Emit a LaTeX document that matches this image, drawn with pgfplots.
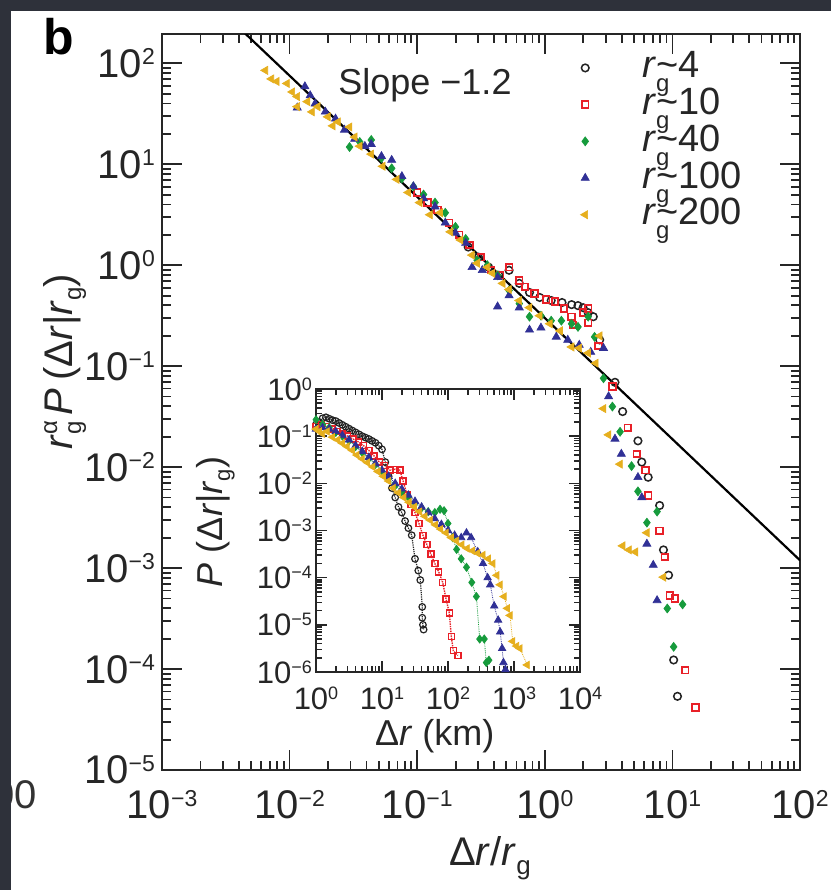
\documentclass[border=0pt]{standalone}
\usepackage{pgfplots}
\pgfplotsset{compat=1.18}
\usepackage{fontspec}
\setmainfont{Liberation Sans}
\definecolor{cblk}{RGB}{35,35,35}
\definecolor{cred}{RGB}{232,32,40}
\definecolor{cgrn}{RGB}{22,155,60}
\definecolor{cblu}{RGB}{48,48,150}
\definecolor{cyel}{RGB}{230,175,30}
\definecolor{bgdark}{RGB}{46,49,58}
\newcommand{\Tp}[1]{10\raisebox{12.5pt}{\fontsize{23}{23}\selectfont #1}}
\newcommand{\tp}[1]{10\raisebox{10pt}{\fontsize{18}{18}\selectfont #1}}
\newcommand{\rg}{\textit{r}\rlap{\raisebox{-14pt}{\fontsize{24}{24}\selectfont g}}}
\pgfplotsset{
  s4/.style={only marks, mark=o, mark size=3.8pt, line width=1.5pt, color=cblk},
  s10/.style={only marks, mark=square, mark size=3.3pt, line width=1.7pt, color=cred},
  s40/.style={only marks, mark=diamond*, mark size=4.5pt, line width=0.6pt, color=cgrn},
  s100/.style={only marks, mark=triangle*, mark size=4.7pt, line width=0.6pt, color=cblu},
  s200/.style={only marks, mark=triangle*, mark size=4.7pt, line width=0.6pt, color=cyel, mark options={rotate=90}},
}
\begin{document}
\begin{tikzpicture}
\useasboundingbox (0,0) rectangle (831pt,-890pt);
\fill[bgdark] (0,0) rectangle (831pt,-890pt);
\fill[white] (11pt,-11pt) rectangle (831pt,-890pt);
\begin{scope}
\clip (11pt,-11pt) rectangle (831pt,-890pt);
\node[anchor=base east, font=\fontsize{40}{40}\selectfont, text=black!80, inner sep=0pt] at (37pt,-808pt) {00};
\end{scope}
\node[anchor=base west, font=\fontsize{50}{50}\selectfont\bfseries, inner sep=0pt] at (43pt,-55pt) {b};

\begin{axis}[
  at={(162pt,-770pt)}, anchor=south west,
  width=638pt, height=736pt, scale only axis,
  xmode=log, ymode=log,
  xmin=1e-3, xmax=1e2, ymin=1e-5, ymax=195,
  axis line style={line width=2.4pt, black!85},
  tick align=inside,
  major tick length=20pt, minor tick length=9pt,
  tick style={line width=1.8pt, black!85},
  xtick={1e-3,1e-2,1e-1,1,10,100},
  xticklabels={\Tp{−3},\Tp{−2},\Tp{−1},\Tp{0},\Tp{1},\Tp{2}},
  minor xtick={2e-3,3e-3,4e-3,5e-3,6e-3,7e-3,8e-3,9e-3,0.02,0.03,0.04,0.05,0.06,0.07,0.08,0.09,0.2,0.3,0.4,0.5,0.6,0.7,0.8,0.9,2,3,4,5,6,7,8,9,20,30,40,50,60,70,80,90},
  ytick={1e-5,1e-4,1e-3,1e-2,1e-1,1,10,100},
  yticklabels={\Tp{−5},\Tp{−4},\Tp{−3},\Tp{−2},\Tp{−1},\Tp{0},\Tp{1},\Tp{2}},
  minor ytick={2e-5,3e-5,4e-5,5e-5,6e-5,7e-5,8e-5,9e-5,2e-4,3e-4,4e-4,5e-4,6e-4,7e-4,8e-4,9e-4,2e-3,3e-3,4e-3,5e-3,6e-3,7e-3,8e-3,9e-3,0.02,0.03,0.04,0.05,0.06,0.07,0.08,0.09,0.2,0.3,0.4,0.5,0.6,0.7,0.8,0.9,2,3,4,5,6,7,8,9,20,30,40,50,60,70,80,90},
  ticklabel style={font=\fontsize{40}{40}\selectfont, inner sep=0pt, text=black!85},
  xticklabel style={yshift=-20pt},
  yticklabel style={xshift=-7pt},
  xlabel={Δ\textit{r}/\textit{r}\raisebox{-9pt}{\fontsize{26}{26}\selectfont g}},
  xlabel style={at={(axis description cs:0.514,0)}, anchor=base, yshift=-95pt, font=\fontsize{40}{40}\selectfont, inner sep=0pt, text=black!85},
  ylabel={\textit{r}\rlap{\raisebox{15pt}{\fontsize{24}{24}\selectfont α}}\raisebox{-9pt}{\fontsize{24}{24}\selectfont g}\hspace{6pt}\textit{P}\hspace{8pt}(Δ\textit{r}|\textit{r}\raisebox{-9pt}{\fontsize{24}{24}\selectfont g})},
  ylabel style={at={(axis description cs:-0.141,0.555)}, anchor=base, font=\fontsize{40}{40}\selectfont, inner sep=0pt, text=black!85},
  legend style={at={(0.656,0.977)}, anchor=north west, draw=none, fill=none, inner sep=0pt, outer sep=0pt, row sep=0pt, column sep=53pt, font=\fontsize{38}{38}\selectfont, text=black!85, cells={anchor=base west}, nodes={inner sep=0pt, text height=27pt, text depth=9.7pt}},
  legend image code/.code={\draw[#1] plot coordinates {(0pt,10pt)};},
]
\addplot[black, line width=2.2pt, forget plot] coordinates {(1e-3,1194) (100,1.194e-3)};
\addlegendimage{s4}\addlegendentry{\rg\textasciitilde 4}
\addlegendimage{s10}\addlegendentry{\rg\textasciitilde 10}
\addlegendimage{s40}\addlegendentry{\rg\textasciitilde 40}
\addlegendimage{s100}\addlegendentry{\rg\textasciitilde 100}
\addlegendimage{s200}\addlegendentry{\rg\textasciitilde 200}
% r_g ~ 4
\addplot[s4, forget plot] coordinates {(0.2512,1.514) (0.302,1.202) (0.363,0.955) (0.4365,0.794) (0.5248,0.891) (0.631,0.661) (0.759,0.537) (0.912,0.479) (1.122,0.447) (1.365,0.427) (1.622,0.407) (1.82,0.398) (1.995,0.380) (2.188,0.339) (2.399,0.309) (2.692,0.182) (3.548,0.0692) (4.074,0.0355) (5.37,0.0182) (5.754,0.01122) (6.457,7.94e-3) (7.943,4.17e-3) (8.511,1.514e-3) (9.333,8.51e-4) (10.23,1.23e-4) (10.96,5.37e-5)};
% r_g ~ 10
\addplot[s10, forget plot] coordinates {(0.1,5.25) (0.1202,4.17) (0.1445,3.55) (0.1778,2.63) (0.2138,2.00) (0.257,1.585) (0.3162,1.202) (0.380,0.891) (0.4467,0.794) (0.5248,0.955) (0.631,0.708) (0.700,0.610) (0.832,0.525) (1.023,0.457) (1.202,0.437) (1.413,0.372) (1.622,0.309) (1.66,0.257) (1.995,0.339) (2.188,0.372) (2.188,0.269) (2.63,0.1585) (3.388,0.0631) (4.467,0.02455) (5.248,0.01349) (6.166,9.33e-3) (6.457,5.25e-3) (7.943,2.344e-3) (8.71,1.288e-3) (9.55,5.37e-4) (10.47,5.01e-4) (12.59,9.77e-5) (15.14,4.17e-5)};
% r_g ~ 40
\addplot[s40, forget plot] coordinates {(0.02951,14.8) (0.03548,16.6) (0.04365,17.4) (0.05248,11.5) (0.0631,9.12) (0.07586,7.24) (0.09333,6.03) (0.1122,5.01) (0.138,4.17) (0.166,3.31) (0.1995,2.40) (0.2399,1.82) (0.2951,1.122) (0.3548,1.0) (0.4266,0.794) (0.5248,0.562) (0.631,0.417) (0.759,0.309) (0.933,0.316) (1.122,0.282) (1.349,0.282) (1.622,0.263) (1.82,0.245) (2.188,0.309) (2.455,0.195) (2.884,0.0759) (3.388,0.0398) (3.89,0.0224) (4.786,0.01023) (5.37,5.75e-3) (6.31,2.818e-3) (7.586,3.63e-3) (9.12,3.98e-4) (10.23,1.66e-4) (12.02,4.37e-4)};
% r_g ~ 100
\addplot[s100, forget plot] coordinates {(0.01148,36.3) (0.01318,58.9) (0.0145,48.0) (0.01585,39.8) (0.01905,33.1) (0.02291,28.2) (0.02692,21.9) (0.03236,17.8) (0.0389,15.1) (0.04365,15.8) (0.05248,12.0) (0.0631,11.0) (0.07586,7.59) (0.09333,6.03) (0.1122,4.57) (0.138,3.80) (0.166,2.63) (0.1995,2.09) (0.2399,1.66) (0.2692,0.955) (0.3236,0.891) (0.4266,0.759) (0.4266,0.389) (0.5248,0.501) (0.631,0.380) (0.759,0.229) (0.933,0.240) (1.23,0.195) (1.514,0.182) (1.862,0.162) (2.291,0.138) (2.884,0.151) (3.162,0.0501) (3.548,0.01905) (3.981,0.0135) (5.37,7.94e-3) (5.754,5.01e-3) (6.31,1.738e-3) (7.079,1.072e-3) (7.586,4.79e-4)};
% r_g ~ 200
\addplot[s200, forget plot] coordinates {(6.457e-3,85.1) (7.2e-3,70.0) (7.943e-3,66.1) (9.55e-3,63.1) (0.0105,52.0) (0.01148,37.2) (0.01148,46.8) (0.0138,41.7) (0.015,33.0) (0.0166,37.2) (0.01995,29.5) (0.0218,24.0) (0.02399,26.3) (0.02951,23.4) (0.0324,18.6) (0.03548,15.1) (0.04365,12.6) (0.0537,9.55) (0.06918,7.08) (0.08511,5.25) (0.1047,4.17) (0.1259,3.16) (0.1514,3.31) (0.182,2.14) (0.2188,1.778) (0.2692,1.259) (0.2951,1.047) (0.3548,0.955) (0.389,0.832) (0.4677,0.661) (0.5248,0.575) (0.631,0.447) (0.759,0.380) (0.912,0.316) (1.096,0.263) (1.318,0.224) (1.622,0.155) (1.862,0.151) (2.188,0.135) (2.512,0.107) (2.692,0.1995) (2.884,0.0380) (3.162,0.0209) (3.89,0.0107) (4.074,1.66e-3) (4.571,1.514e-3) (5.129,1.445e-3) (6.31,2.239e-3) (8.511,8.13e-4)};
\end{axis}
\node[anchor=base, font=\fontsize{36}{36}\selectfont, text=black!85, inner sep=0pt] at (425pt,-95pt) {Slope −1.2};

\begin{axis}[
  at={(316pt,-672pt)}, anchor=south west,
  width=264pt, height=283pt, scale only axis,
  xmode=log, ymode=log,
  xmin=1, xmax=1e4, ymin=1e-6, ymax=1,
  axis line style={line width=2pt, black!85},
  tick align=inside,
  major tick length=11pt, minor tick length=6pt,
  tick style={line width=1.5pt, black!85},
  xtick={1,10,100,1000,10000},
  xticklabels={\tp{0},\tp{1},\tp{2},\tp{3},\tp{4}},
  minor xtick={2,3,4,5,6,7,8,9,20,30,40,50,60,70,80,90,200,300,400,500,600,700,800,900,2000,3000,4000,5000,6000,7000,8000,9000},
  ytick={1e-6,1e-5,1e-4,1e-3,1e-2,1e-1,1},
  yticklabels={\tp{−6},\tp{−5},\tp{−4},\tp{−3},\tp{−2},\tp{−1},\tp{0}},
  minor ytick={2e-6,3e-6,4e-6,5e-6,6e-6,7e-6,8e-6,9e-6,2e-5,3e-5,4e-5,5e-5,6e-5,7e-5,8e-5,9e-5,2e-4,3e-4,4e-4,5e-4,6e-4,7e-4,8e-4,9e-4,2e-3,3e-3,4e-3,5e-3,6e-3,7e-3,8e-3,9e-3,0.02,0.03,0.04,0.05,0.06,0.07,0.08,0.09,0.2,0.3,0.4,0.5,0.6,0.7,0.8,0.9},
  ticklabel style={font=\fontsize{31}{31}\selectfont, inner sep=0pt, text=black!85},
  xticklabel style={yshift=-15pt},
  yticklabel style={xshift=-4pt},
  xlabel={Δ\textit{r} (km)},
  xlabel style={at={(axis description cs:0.45,0)}, anchor=base, yshift=-73pt, font=\fontsize{36}{36}\selectfont, inner sep=0pt, text=black!85},
  ylabel={\textit{P} (Δ\textit{r}|\textit{r}\raisebox{-8pt}{\fontsize{22}{22}\selectfont g})},
  ylabel style={at={(axis description cs:-0.356,0.53)}, anchor=base, font=\fontsize{36}{36}\selectfont, inner sep=0pt, text=black!85},
  mark options={solid},
]
\addplot[cblk, mark=o, mark size=3.3pt, line width=1.2pt, densely dotted, mark options={solid}] coordinates {(1,0.1778) (1.122,0.1995) (1.259,0.240) (1.413,0.2512) (1.585,0.2344) (1.778,0.2188) (1.995,0.2089) (2.239,0.1905) (2.512,0.1738) (2.818,0.1585) (3.162,0.1445) (3.548,0.1318) (3.981,0.1202) (4.467,0.1096) (5.012,0.1) (5.623,0.0933) (6.31,0.0871) (7.079,0.0794) (7.943,0.0724) (8.913,0.0631) (10,0.0525) (11.22,0.0282) (12.59,0.01413) (14.13,7.94e-3) (15.85,5.01e-3) (17.78,3.16e-3) (19.95,2.40e-3) (22.39,1.585e-3) (25.12,1.122e-3) (28.18,7.94e-4) (31.62,2.512e-4) (35.48,1.413e-4) (38.02,8.91e-5) (40.74,2.40e-5) (40.74,1.413e-5) (41.69,1e-5) (42.66,7.94e-6)};
\addplot[cred, mark=square, mark size=3pt, line width=1.4pt, densely dotted, mark options={solid}] coordinates {(1,0.1585) (1.202,0.1778) (1.445,0.1585) (1.738,0.1413) (2.089,0.1259) (2.512,0.1122) (3.02,0.1) (3.631,0.0871) (4.365,0.0759) (5.248,0.0631) (6.31,0.0501) (7.586,0.0380) (9.12,0.0282) (10.96,0.0240) (13.18,0.01905) (15.85,0.01995) (18.62,0.01905) (20.89,0.01122) (23.99,5.62e-3) (27.54,3.55e-3) (31.62,2.40e-3) (36.31,1.413e-3) (41.69,7.94e-4) (47.86,5.01e-4) (54.95,3.16e-4) (63.1,2.0e-4) (72.44,1.318e-4) (83.18,7.94e-5) (93.33,3.55e-5) (104.7,1.778e-5) (112.2,5.62e-6) (120.2,2.818e-6) (141.3,2.239e-6)};
\addplot[cgrn, mark=diamond*, mark size=4pt, line width=0.8pt, densely dotted, mark options={solid}] coordinates {(1,0.2239) (1.259,0.1778) (1.585,0.1514) (1.995,0.1202) (2.512,0.1) (3.162,0.0794) (3.981,0.0603) (5.012,0.0447) (6.31,0.0331) (7.943,0.0251) (10,0.01778) (12.59,0.01259) (15.85,8.91e-3) (19.95,6.61e-3) (25.12,5.01e-3) (31.62,3.80e-3) (39.81,3.02e-3) (50.12,2.512e-3) (63.1,2.40e-3) (75.86,2.818e-3) (87.1,2.63e-3) (100,1.413e-3) (117.5,7.08e-4) (134.9,3.98e-4) (158.5,2.512e-4) (190.5,1.66e-4) (229.1,7.94e-5) (269.2,3.98e-5) (302,5.01e-6) (354.8,5.01e-6) (380.2,1.585e-6) (416.9,1.778e-6)};
\addplot[cblu, mark=triangle*, mark size=4.2pt, line width=0.8pt, densely dotted, mark options={solid}] coordinates {(1,0.1413) (1.259,0.1514) (1.585,0.1413) (1.995,0.1259) (2.512,0.1047) (3.162,0.0832) (3.981,0.0631) (5.012,0.0479) (6.31,0.0355) (7.943,0.0263) (10,0.01905) (12.59,0.01413) (15.85,0.01) (19.95,7.59e-3) (25.12,5.62e-3) (31.62,4.17e-3) (39.81,3.16e-3) (50.12,2.40e-3) (63.1,1.778e-3) (79.43,1.349e-3) (100,1e-3) (125.9,7.94e-4) (158.5,7.08e-4) (190.5,8.91e-4) (223.9,7.08e-4) (281.8,3.55e-4) (338.8,2.0e-4) (398.1,1e-4) (436.5,7.08e-5) (501.2,2.512e-5) (575.4,1.259e-5) (616.6,7.08e-6) (660.7,3.16e-6) (691.8,1.585e-6) (741.3,1.122e-6)};
\addplot[cyel, mark=triangle*, mark size=4.2pt, line width=0.8pt, densely dotted, mark options={solid, rotate=90}] coordinates {(1,0.1413) (1.122,0.1259) (1.259,0.1122) (1.479,0.1259) (1.778,0.0955) (2.138,0.0832) (2.512,0.0708) (2.951,0.0603) (3.548,0.0501) (4.169,0.0398) (5.012,0.0331) (6.026,0.0275) (7.244,0.0224) (8.71,0.01778) (10.47,0.01413) (12.59,0.01122) (14.79,7.94e-3) (17.78,6.31e-3) (21.38,5.01e-3) (25.7,3.98e-3) (30.9,3.16e-3) (37.15,2.512e-3) (44.67,2.0e-3) (53.7,1.66e-3) (64.57,1.318e-3) (77.62,1.072e-3) (93.33,8.91e-4) (112.2,7.08e-4) (134.9,6.03e-4) (162.2,5.01e-4) (195,4.17e-4) (234.4,3.72e-4) (281.8,3.31e-4) (338.8,3.02e-4) (407.4,2.512e-4) (478.6,2.0e-4) (549.5,1.122e-4) (616.6,7.08e-5) (707.9,3.98e-5) (794.3,2.239e-5) (871,1.585e-5) (955,4.47e-6) (1096,3.55e-6) (1230,3.16e-6) (1585,1.413e-6)};
\end{axis}
\end{tikzpicture}
\end{document}
